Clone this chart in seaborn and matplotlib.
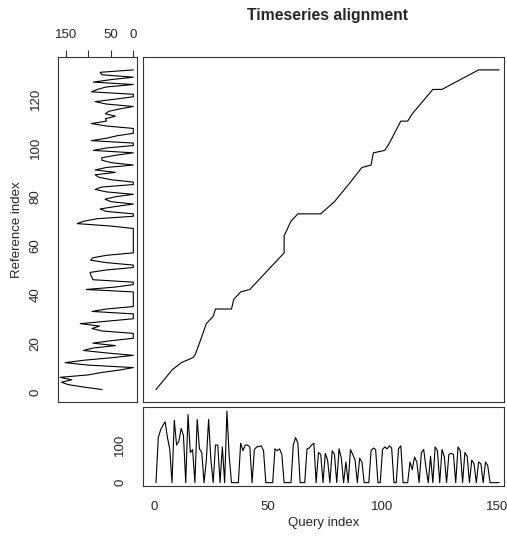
import numpy as np
import pandas as pd
import seaborn as sns
import matplotlib.pyplot as plt

# query series (x axis of the alignment), one value per query index
query_values = [0, 120, 140, 152, 162, 120, 90, 0, 166, 100,
                110, 144, 126, 0, 181, 80, 88, 0, 168, 90,
                80, 0, 60, 168, 60, 0, 100, 100, 0, 95,
                0, 190, 70, 0, 0, 0, 0, 105, 85, 100,
                100, 95, 0, 88, 95, 96, 98, 85, 0, 0,
                0, 0, 90, 85, 90, 75, 0, 0, 0, 0,
                100, 120, 105, 0, 0, 0, 90, 92, 100, 105,
                0, 80, 75, 0, 78, 60, 0, 85, 75, 0,
                90, 65, 0, 55, 0, 88, 75, 60, 0, 65,
                55, 0, 0, 0, 85, 92, 88, 0, 0, 88,
                95, 90, 98, 92, 0, 0, 90, 98, 0, 0,
                0, 55, 35, 68, 55, 0, 80, 88, 40, 0,
                70, 0, 95, 85, 0, 88, 70, 0, 75, 78,
                75, 0, 95, 85, 0, 80, 70, 0, 60, 50,
                0, 55, 50, 0, 55, 45, 0, 0, 0, 0,
                0]

# reference series (y axis of the alignment)
reference_values = [70, 110, 145, 160, 137, 163, 100, 70, 30, 0,
                    100, 152, 110, 50, 0, 60, 111, 90, 40, 90,
                    50, 0, 0, 0, 70, 92, 75, 118, 60, 0,
                    0, 0, 92, 60, 0, 0, 0, 0, 0, 0,
                    0, 105, 40, 0, 0, 90, 92, 95, 96, 60,
                    0, 0, 60, 95, 90, 60, 0, 0, 0, 0,
                    0, 0, 0, 0, 0, 0, 0, 50, 125, 110,
                    80, 0, 0, 60, 74, 40, 0, 50, 63, 40,
                    0, 60, 85, 70, 0, 0, 50, 77, 85, 40,
                    85, 60, 0, 50, 70, 70, 40, 0, 89, 60,
                    0, 0, 93, 60, 36, 0, 0, 0, 60, 93,
                    60, 62, 40, 62, 55, 30, 0, 60, 85, 40,
                    0, 0, 93, 80, 60, 0, 89, 50, 0, 70,
                    74, 0]

query_index = list(range(1, len(query_values) + 1))
reference_index = list(range(1, len(reference_values) + 1))

# warping path corners (query index, reference index)
path_query = [1, 8, 12, 17, 18, 20, 23, 26, 27, 34, 35, 38, 42, 57, 57, 60, 63,
              73, 79, 86, 91, 95, 96, 101, 103, 108, 111, 113, 122, 126, 140, 142, 151]
path_reference = [1, 9, 12, 14, 15, 20, 28, 31, 34, 34, 38, 41, 42, 57, 64, 70, 73,
                  73, 78, 86, 92, 93, 98, 99, 102, 111, 111, 114, 124, 124, 131, 132, 132]

sns.set_style("white")
plt.rcParams['font.family'] = ['Liberation Sans', 'DejaVu Sans']

fig = plt.figure(figsize=(5.07, 5.38), dpi=100)
ax_ref = fig.add_axes([0.115, 0.2533, 0.1546, 0.6413])
ax_main = fig.add_axes([0.2815, 0.2533, 0.7126, 0.6413])
ax_query = fig.add_axes([0.2815, 0.0967, 0.7126, 0.1474])

line_kw = dict(color="black", linewidth=0.8, estimator=None, sort=False)
sns.lineplot(x=path_query, y=path_reference, ax=ax_main, **line_kw)
sns.lineplot(x=reference_values, y=reference_index, ax=ax_ref, **line_kw)
sns.lineplot(x=query_index, y=query_values, ax=ax_query, **line_kw)

ax_main.set_xlim(-4.8, 153.1)
ax_main.set_ylim(-4.0, 137.4)
ax_ref.set_xlim(167, -7.5)
ax_ref.set_ylim(-4.0, 137.4)
ax_query.set_xlim(-4.8, 153.1)
ax_query.set_ylim(-8.8, 202)

for ax in (ax_main, ax_ref, ax_query):
    for sp in ax.spines.values():
        sp.set_color("#333333")
        sp.set_linewidth(0.8)
    ax.set_xlabel("")
    ax.set_ylabel("")
    ax.tick_params(direction="out", length=5, width=0.8, labelsize=9.5, color="#333333")

ax_main.set_xticks([])
ax_main.set_yticks([])

ax_ref.xaxis.tick_top()
ax_ref.set_xticks([150, 100, 50, 0])
ax_ref.set_xticklabels(["150", "", "50", "0"])
ax_ref.set_yticks([0, 20, 40, 60, 80, 100, 120])
ax_ref.set_yticklabels(["0", "20", "40", "60", "80", "100", "120"], rotation=90, va="center")
ax_ref.tick_params(axis="x", pad=6)
ax_ref.tick_params(axis="y", pad=7)
ax_ref.set_ylabel("Reference index", fontsize=9.5, labelpad=5)

ax_query.set_xticks([0, 50, 100, 150])
ax_query.set_yticks([0, 50, 100, 150])
ax_query.set_yticklabels(["0", "", "100", ""], rotation=90, va="center")
ax_query.tick_params(axis="y", pad=7)
ax_query.tick_params(axis="x", pad=6)
ax_query.set_xlabel("Query index", fontsize=9.5, labelpad=3)

fig.text(0.647, 0.972, "Timeseries alignment", ha="center", va="center",
         fontsize=11.3, fontweight="bold")

fig.savefig("out.png", dpi=100)
